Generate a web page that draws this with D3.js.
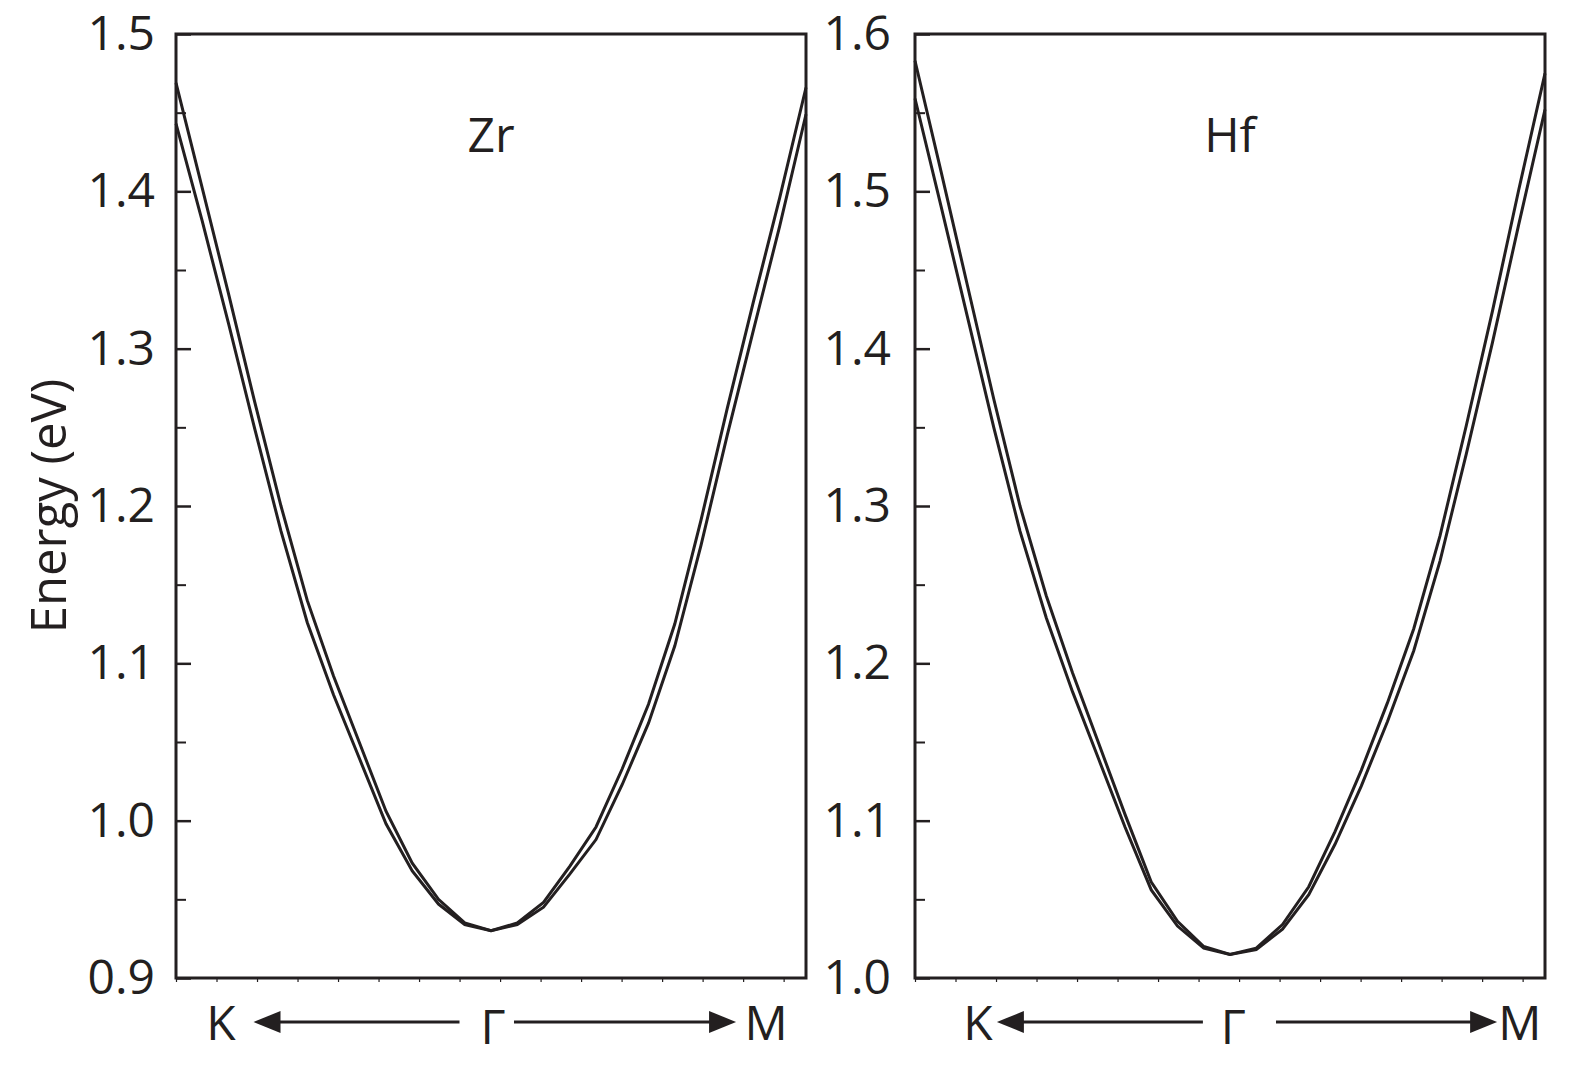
<!DOCTYPE html>
<html>
<head>
<meta charset="utf-8">
<script src="https://cdn.jsdelivr.net/npm/d3@7"></script>
<style>
  body { margin: 0; background: #fff; }
  text { font-family: 'Open Sans', 'DejaVu Sans', sans-serif; fill: #231f20; }
</style>
</head>
<body>
<svg id="chart" width="1575" height="1066"></svg>
<script>
// ---- data (k: -1 = K, 0 = Gamma, 1 = M) ----
const kPoints = [-1, -11/12, -10/12, -9/12, -8/12, -7/12, -6/12, -5/12, -4/12, -3/12, -2/12, -1/12, 0,
                 1/12, 2/12, 3/12, 4/12, 5/12, 6/12, 7/12, 8/12, 9/12, 10/12, 11/12, 1];

const zrUpper = [1.469, 1.402, 1.335, 1.266, 1.200, 1.140, 1.092, 1.049, 1.006, 0.973, 0.950, 0.935, 0.930,
                 0.935, 0.948, 0.971, 0.996, 1.033, 1.074, 1.125, 1.191, 1.262, 1.330, 1.396, 1.466];
const zrLower = [1.443, 1.381, 1.316, 1.249, 1.184, 1.126, 1.080, 1.039, 0.998, 0.968, 0.947, 0.934, 0.930,
                 0.934, 0.945, 0.966, 0.988, 1.023, 1.062, 1.111, 1.175, 1.245, 1.312, 1.378, 1.449];

const hfUpper = [1.583, 1.512, 1.440, 1.368, 1.300, 1.243, 1.194, 1.149, 1.104, 1.061, 1.036, 1.020, 1.015,
                 1.019, 1.034, 1.058, 1.093, 1.132, 1.175, 1.222, 1.281, 1.351, 1.424, 1.501, 1.575];
const hfLower = [1.559, 1.490, 1.420, 1.350, 1.284, 1.229, 1.182, 1.139, 1.096, 1.056, 1.033, 1.019, 1.015,
                 1.018, 1.031, 1.053, 1.085, 1.122, 1.163, 1.208, 1.265, 1.333, 1.404, 1.479, 1.552];

const zrMajorTicks = [0.9, 1.0, 1.1, 1.2, 1.3, 1.4, 1.5];
const zrMinorTicks = [0.95, 1.05, 1.15, 1.25, 1.35, 1.45];
const hfMajorTicks = [1.0, 1.1, 1.2, 1.3, 1.4, 1.5, 1.6];
const hfMinorTicks = [1.05, 1.15, 1.25, 1.35, 1.45, 1.55];
const bottomTickCount = 16;

const panelTitles = ["Zr", "Hf"];
const pathLabels = ["K", "Γ", "M"];
const yAxisTitle = "Energy (eV)";

// ---- layout ----
const ink = "#231f20";
const svg = d3.select("#chart");

const panels = [
  { title: panelTitles[0], upper: zrUpper, lower: zrLower, yDomain: [0.9, 1.5],
    major: zrMajorTicks, minor: zrMinorTicks, x0: 176, x1: 806, pad: 21,
    kX: -0.857, gX: 0.006, mX: 0.873, tipL: -0.754, lineL: -0.10, lineR: 0.073, tipR: 0.778 },
  { title: panelTitles[1], upper: hfUpper, lower: hfLower, yDomain: [1.0, 1.6],
    major: hfMajorTicks, minor: hfMinorTicks, x0: 915, x1: 1545, pad: 24,
    kX: -0.80, gX: 0.01, mX: 0.92, tipL: -0.740, lineL: -0.086, lineR: 0.146, tipR: 0.848 }
];
const yTop = 34, yBot = 978;

panels.forEach(p => {
  const x = d3.scaleLinear().domain([-1, 1]).range([p.x0, p.x1]);
  const y = d3.scaleLinear().domain(p.yDomain).range([yBot, yTop]);
  const g = svg.append("g");

  const line = d3.line().x((d, i) => x(kPoints[i])).y(d => y(d));
  [p.upper, p.lower].forEach(s => {
    g.append("path").datum(s).attr("d", line)
      .attr("fill", "none").attr("stroke", ink).attr("stroke-width", 3)
      .attr("stroke-linejoin", "miter");
  });

  // major ticks with labels (inward)
  const axMaj = d3.axisLeft(y).tickValues(p.major).tickSize(-15).tickPadding(p.pad)
    .tickFormat(d3.format(".1f"));
  const gMaj = g.append("g").attr("transform", `translate(${p.x0},0)`).call(axMaj);
  gMaj.select(".domain").remove();
  gMaj.selectAll("line").attr("stroke", ink).attr("stroke-width", 2.5);
  gMaj.selectAll("text").attr("font-size", 48).attr("fill", ink)
    .attr("font-family", "'Open Sans', sans-serif");

  const axMin = d3.axisLeft(y).tickValues(p.minor).tickSize(-10).tickFormat("");
  const gMin = g.append("g").attr("transform", `translate(${p.x0},0)`).call(axMin);
  gMin.select(".domain").remove();
  gMin.selectAll("line").attr("stroke", ink).attr("stroke-width", 2);

  // bottom tiny ticks (outward)
  const bt = d3.range(bottomTickCount).map(i => -1 + i * 0.1286);
  const axB = d3.axisBottom(x).tickValues(bt).tickSize(4).tickFormat("");
  const gB = g.append("g").attr("transform", `translate(0,${yBot})`).call(axB);
  gB.select(".domain").remove();
  gB.selectAll("line").attr("stroke", ink).attr("stroke-width", 1.2);

  // frame
  g.append("rect").attr("x", p.x0).attr("y", yTop)
    .attr("width", p.x1 - p.x0).attr("height", yBot - yTop)
    .attr("fill", "none").attr("stroke", ink).attr("stroke-width", 3);

  // title
  g.append("text").attr("x", x(0)).attr("y", 152).attr("text-anchor", "middle")
    .attr("font-size", 48).text(p.title);

  // path labels and arrows
  const ly = 1040, ay = 1022;
  g.append("text").attr("x", x(p.kX)).attr("y", ly).attr("text-anchor", "middle")
    .attr("font-size", 48).text(pathLabels[0]);
  g.append("text").attr("x", x(p.gX)).attr("y", ly + 4).attr("text-anchor", "middle")
    .attr("font-size", 48).text(pathLabels[1]);
  g.append("text").attr("x", x(p.mX)).attr("y", ly).attr("text-anchor", "middle")
    .attr("font-size", 48).text(pathLabels[2]);

  const headL = 27, headH = 11;
  // left arrow
  g.append("line").attr("x1", x(p.lineL)).attr("x2", x(p.tipL) + headL - 2)
    .attr("y1", ay).attr("y2", ay).attr("stroke", ink).attr("stroke-width", 3);
  g.append("path").attr("d",
      `M${x(p.tipL)},${ay} L${x(p.tipL) + headL},${ay - headH} L${x(p.tipL) + headL},${ay + headH} Z`)
    .attr("fill", ink);
  // right arrow
  g.append("line").attr("x1", x(p.lineR)).attr("x2", x(p.tipR) - headL + 2)
    .attr("y1", ay).attr("y2", ay).attr("stroke", ink).attr("stroke-width", 3);
  g.append("path").attr("d",
      `M${x(p.tipR)},${ay} L${x(p.tipR) - headL},${ay - headH} L${x(p.tipR) - headL},${ay + headH} Z`)
    .attr("fill", ink);
});

// y axis title
svg.append("text").attr("transform", "translate(66,506) rotate(-90)")
  .attr("text-anchor", "middle").attr("font-size", 49).text(yAxisTitle);
</script>
</body>
</html>
